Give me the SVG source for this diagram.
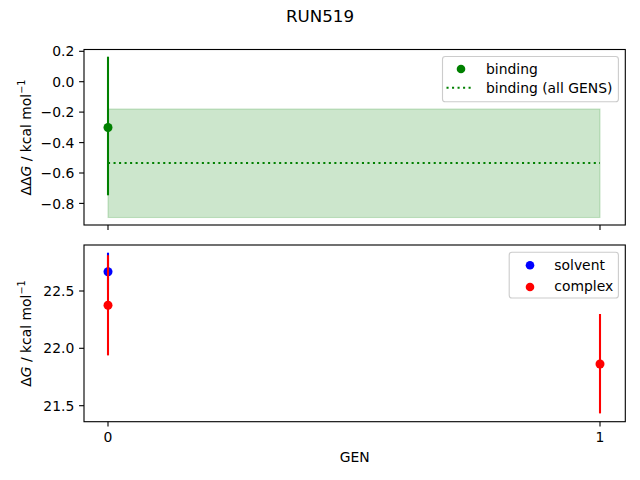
<svg xmlns="http://www.w3.org/2000/svg" width="640" height="480" viewBox="0 0 640 480">
<style>
text{font-family:"DejaVu Sans","Liberation Sans",sans-serif;font-size:13.9px;fill:#000}
.spine{fill:none;stroke:#000;stroke-width:1.11}
.tick{stroke:#000;stroke-width:1.11}
.yl{text-anchor:end}
.xl{text-anchor:middle}
.leg{fill:#fff;fill-opacity:0.8;stroke:#ccc;stroke-width:1.11}
.eg{stroke:#008000;stroke-width:2.08}
.er{stroke:#ff0000;stroke-width:2.08}
.eb{stroke:#0000ff;stroke-width:2.08}
</style>
<rect width="640" height="480" fill="#fff"/>
<text x="320" y="21.5" text-anchor="middle" style="font-size:16.7px">RUN519</text>

<g id="top-axes">
<rect x="108" y="109" width="492" height="108.5" fill="#008000" fill-opacity="0.2" stroke="#008000" stroke-opacity="0.2" stroke-width="1.1"/>
<line x1="108" y1="163" x2="600" y2="163" stroke="#008000" stroke-width="2.08" stroke-dasharray="2.08 3.44"/>
<line class="eg" x1="108" y1="56.7" x2="108" y2="195.3"/>
<circle cx="108" cy="127.5" r="4.5" fill="#008000"/>
<rect class="spine" x="84" y="49.5" width="541.3" height="175.5"/>
<g class="tick">
<line x1="84" y1="51.3" x2="79.1" y2="51.3"/>
<line x1="84" y1="81.7" x2="79.1" y2="81.7"/>
<line x1="84" y1="112.1" x2="79.1" y2="112.1"/>
<line x1="84" y1="142.6" x2="79.1" y2="142.6"/>
<line x1="84" y1="173" x2="79.1" y2="173"/>
<line x1="84" y1="203.4" x2="79.1" y2="203.4"/>
<line x1="108" y1="225" x2="108" y2="229.9"/>
<line x1="600" y1="225" x2="600" y2="229.9"/>
</g>
<text class="yl" x="74.3" y="56.4">0.2</text>
<text class="yl" x="74.3" y="86.8">0.0</text>
<text class="yl" x="74.3" y="117.2">−0.2</text>
<text class="yl" x="74.3" y="147.7">−0.4</text>
<text class="yl" x="74.3" y="178.1">−0.6</text>
<text class="yl" x="74.3" y="208.5">−0.8</text>
<text transform="translate(30.5,137.5) rotate(-90)" text-anchor="middle">ΔΔ<tspan font-style="italic">G</tspan> / kcal mol<tspan style="font-size:9.7px" dy="-5.5">−1</tspan></text>
</g>

<g id="top-legend">
<rect class="leg" x="442.5" y="56.5" width="175.9" height="45.2" rx="2.8"/>
<circle cx="461" cy="69" r="4.3" fill="#008000"/>
<text x="486" y="73.8">binding</text>
<line x1="446.5" y1="87.7" x2="474" y2="87.7" stroke="#008000" stroke-width="2.08" stroke-dasharray="2.08 3.44"/>
<text x="486" y="92.6">binding (all GENS)</text>
</g>

<g id="bottom-axes">
<line class="eb" x1="108" y1="252.7" x2="108" y2="290.7"/>
<circle cx="108" cy="271.7" r="4.5" fill="#0000ff"/>
<line class="er" x1="108" y1="255.2" x2="108" y2="355.4"/>
<circle cx="108" cy="305.3" r="4.5" fill="#ff0000"/>
<line class="er" x1="600" y1="314" x2="600" y2="413.4"/>
<circle cx="600" cy="364" r="4.5" fill="#ff0000"/>
<rect class="spine" x="84" y="245" width="541.3" height="176.7"/>
<g class="tick">
<line x1="84" y1="291" x2="79.1" y2="291"/>
<line x1="84" y1="348.3" x2="79.1" y2="348.3"/>
<line x1="84" y1="405.7" x2="79.1" y2="405.7"/>
<line x1="108" y1="421.7" x2="108" y2="426.6"/>
<line x1="600" y1="421.7" x2="600" y2="426.6"/>
</g>
<text class="yl" x="74.3" y="296.1">22.5</text>
<text class="yl" x="74.3" y="353.4">22.0</text>
<text class="yl" x="74.3" y="410.8">21.5</text>
<text class="xl" x="108" y="441.8">0</text>
<text class="xl" x="600" y="441.8">1</text>
<text class="xl" x="354.7" y="462">GEN</text>
<text transform="translate(30.5,333.5) rotate(-90)" text-anchor="middle">Δ<tspan font-style="italic">G</tspan> / kcal mol<tspan style="font-size:9.7px" dy="-5.5">−1</tspan></text>
</g>

<g id="bottom-legend">
<rect class="leg" x="509.2" y="252.2" width="109.2" height="45.8" rx="2.8"/>
<circle cx="530" cy="265.3" r="4.3" fill="#0000ff"/>
<text x="554.3" y="270">solvent</text>
<circle cx="530" cy="287" r="4.3" fill="#ff0000"/>
<text x="554.3" y="290.5">complex</text>
</g>
</svg>
